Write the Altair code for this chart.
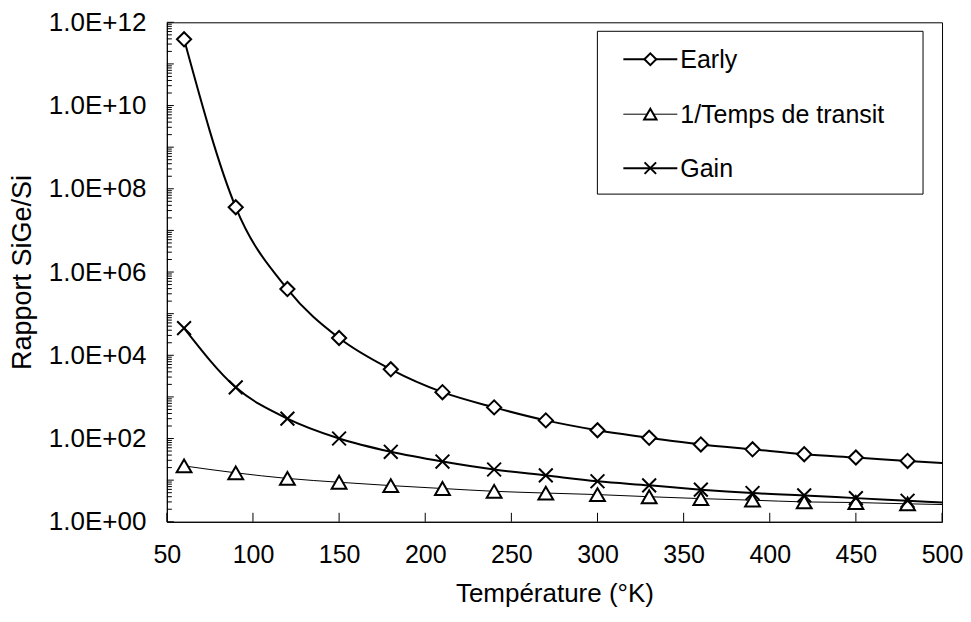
import altair as alt
import pandas as pd

# ---------------- data ----------------
temps = [60, 90, 120, 150, 180, 210, 240, 270, 300, 330, 360, 390, 420, 450, 480]
early = [3.9e11, 3.6e7, 3.9e5, 2.6e4, 4.6e3, 1.3e3, 560, 273, 158, 104, 72, 55, 42, 35, 29]
transit = [22, 15, 11, 8.9, 7.4, 6.3, 5.4, 4.9, 4.5, 4.0, 3.6, 3.3, 3.0, 2.9, 2.7]
gain = [4.5e4, 1.7e3, 300, 100, 48, 28, 18, 13, 9.4, 7.5, 5.9, 4.9, 4.3, 3.7, 3.2]

# curves continue to the right edge of the axis (no marker there)
line_end_temp = 500
line_end_values = {"Early": 25.7, "1/Temps de transit": 2.6, "Gain": 2.9}

series_names = ["Early", "1/Temps de transit", "Gain"]
series_values = {"Early": early, "1/Temps de transit": transit, "Gain": gain}
series_width = {"Early": 2, "1/Temps de transit": 1, "Gain": 2}
series_shape = {
    "Early": "diamond",
    "1/Temps de transit": "triangle-up",
    "Gain": "M-1,-1L1,1M1,-1L-1,1",
}
series_size = {"Early": 200, "1/Temps de transit": 220, "Gain": 190}
series_fill = {"Early": "white", "1/Temps de transit": "white", "Gain": None}

x_ticks = [50, 100, 150, 200, 250, 300, 350, 400, 450, 500]
y_ticks = [1e0, 1e2, 1e4, 1e6, 1e8, 1e10, 1e12]
y_minor = [m * 10.0 ** k for k in range(12) for m in range(2, 10)]
y_major_all = [10.0 ** k for k in range(13)]

W, H = 776, 500
FONT = "Liberation Sans"

# ---------------- encodings ----------------
common_axis = dict(grid=False, ticks=False, domainColor="black",
                   labelFont=FONT, titleFont=FONT, titleFontWeight="normal",
                   labelColor="black", titleColor="black", labelOverlap=False)
x_axis = alt.Axis(values=x_ticks, format="d", title="Température (°K)",
                  labelFontSize=25, titleFontSize=26, labelPadding=21,
                  titlePadding=13, labelFlush=False, **common_axis)
y_axis = alt.Axis(values=y_ticks, title="Rapport SiGe/Si",
                  labelExpr="'1.0E+' + (round(log(datum.value)/LN10) < 10 ? '0' : '') + format(round(log(datum.value)/LN10), 'd')",
                  labelFontSize=26, titleFontSize=27, labelPadding=21,
                  titlePadding=12, **common_axis)
x_scale = alt.Scale(domain=[50, 500], nice=False, zero=False)
y_scale = alt.Scale(type="log", domain=[1, 1e12], nice=False)


def X(field):
    return alt.X(f"{field}:Q", scale=x_scale, axis=x_axis)


def Y(field):
    return alt.Y(f"{field}:Q", scale=y_scale, axis=y_axis)


layers = []

# inward tick marks
df_minor = pd.DataFrame({"v": y_minor})
df_major = pd.DataFrame({"v": y_major_all})
df_xt = pd.DataFrame({"t": x_ticks})
layers.append(alt.Chart(df_minor).mark_rule(color="black", strokeWidth=1).encode(
    y=Y("v"), x=alt.value(0), x2=alt.value(5)))
layers.append(alt.Chart(df_major).mark_rule(color="black", strokeWidth=1).encode(
    y=Y("v"), x=alt.value(0), x2=alt.value(7)))
layers.append(alt.Chart(df_xt).mark_rule(color="black", strokeWidth=1).encode(
    x=X("t"), y=alt.value(H), y2=alt.value(H - 9)))

# series
for name in series_names:
    vals = series_values[name]
    df_line = pd.DataFrame({"T": temps + [line_end_temp],
                            "value": vals + [line_end_values[name]]})
    df_pts = pd.DataFrame({"T": temps, "value": vals})
    layers.append(alt.Chart(df_line).mark_line(
        color="black", strokeWidth=series_width[name], interpolate="monotone"
    ).encode(x=X("T"), y=Y("value")))
    pt_kwargs = dict(shape=series_shape[name], size=series_size[name],
                     stroke="black", strokeWidth=2, opacity=1)
    if series_fill[name]:
        pt_kwargs.update(filled=True, fill=series_fill[name])
    else:
        pt_kwargs.update(filled=False)
    layers.append(alt.Chart(df_pts).mark_point(**pt_kwargs).encode(
        x=X("T"), y=Y("value")))

# legend (manual, inside the plot area)
box = pd.DataFrame({"k": [0]})
layers.append(alt.Chart(box).mark_rect(fill="white", stroke="black", strokeWidth=1).encode(
    x=alt.value(431), x2=alt.value(757), y=alt.value(9), y2=alt.value(172)))
row_y = [37, 92, 146]
for i, name in enumerate(series_names):
    d = pd.DataFrame({"label": [name]})
    layers.append(alt.Chart(d).mark_rule(color="black", strokeWidth=series_width[name]).encode(
        x=alt.value(457), x2=alt.value(511), y=alt.value(row_y[i])))
    pt_kwargs = dict(shape=series_shape[name], size=series_size[name] * 0.7,
                     stroke="black", strokeWidth=2, opacity=1)
    if series_fill[name]:
        pt_kwargs.update(filled=True, fill=series_fill[name])
    else:
        pt_kwargs.update(filled=False)
    layers.append(alt.Chart(d).mark_point(**pt_kwargs).encode(
        x=alt.value(484), y=alt.value(row_y[i])))
    layers.append(alt.Chart(d).mark_text(
        align="left", baseline="middle", font=FONT, fontSize=25, color="black"
    ).encode(x=alt.value(514), y=alt.value(row_y[i] + 1), text="label:N"))

chart = alt.layer(*layers).properties(
    width=W, height=H,
    background="white",
    padding={"left": 0, "top": 1, "right": 0, "bottom": 0},
).configure_view(
    stroke="black", strokeWidth=1
).configure_axis(
    grid=False, ticks=False, domainColor="black", domainWidth=1,
    labelColor="black", titleColor="black", labelFont=FONT, titleFont=FONT,
    titleFontWeight="normal"
)

chart.save("out.html", embed_options={"renderer": "svg", "actions": False})
